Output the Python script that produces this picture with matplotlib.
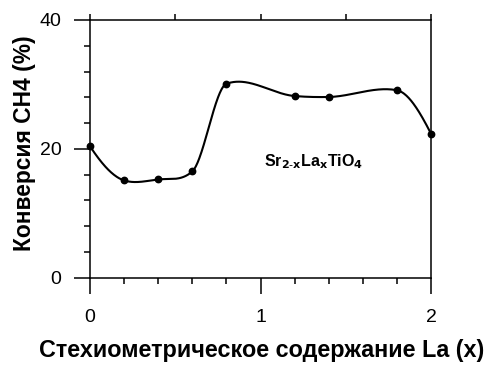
import numpy as np
import matplotlib
matplotlib.use("Agg")
import matplotlib.pyplot as plt
from matplotlib.ticker import MultipleLocator

x_la = [0.0, 0.2, 0.4, 0.6, 0.8, 1.2, 1.4, 1.8, 2.0]
conv = [20.4, 15.1, 15.25, 16.5, 30.1, 28.2, 28.05, 29.1, 22.35]
x_ticks = [0, 1, 2]
y_ticks = [0, 20, 40]


def smooth_curve(x, y, xs):
    """Hermite spline; tangents blend Akima and Catmull-Rom estimates."""
    x = np.asarray(x, float); y = np.asarray(y, float)
    n = len(x)
    s = np.diff(y) / np.diff(x)
    s_ext = np.concatenate([[3 * s[0] - 2 * s[1], 2 * s[0] - s[1]], s,
                            [2 * s[-1] - s[-2], 3 * s[-1] - 2 * s[-2]]])
    t = np.zeros(n)
    for i in range(n):
        m2, m1, m0, p1 = s_ext[i], s_ext[i + 1], s_ext[i + 2], s_ext[i + 3]
        w1 = abs(p1 - m0); w2 = abs(m1 - m2)
        ak = (m1 + m0) / 2 if w1 + w2 == 0 else (w1 * m1 + w2 * m0) / (w1 + w2)
        if 0 < i < n - 1:
            cr = (y[i + 1] - y[i - 1]) / (x[i + 1] - x[i - 1])
            t[i] = 0.5 * (ak + cr)
        else:
            t[i] = ak
    idx = np.clip(np.searchsorted(x, xs) - 1, 0, n - 2)
    h = x[idx + 1] - x[idx]
    u = (xs - x[idx]) / h
    h00 = 2 * u**3 - 3 * u**2 + 1
    h10 = u**3 - 2 * u**2 + u
    h01 = -2 * u**3 + 3 * u**2
    h11 = u**3 - u**2
    return h00 * y[idx] + h10 * h * t[idx] + h01 * y[idx + 1] + h11 * h * t[idx + 1]


plt.rcParams['font.family'] = ['Liberation Sans', 'DejaVu Sans']

fig = plt.figure(figsize=(4.88, 3.65), dpi=100)
ax = fig.add_axes([90 / 488, 1 - 277.7 / 365, (431 - 90) / 488, (277.7 - 20) / 365])

xs = np.linspace(min(x_la), max(x_la), 600)
ax.plot(xs, smooth_curve(x_la, conv, xs), color='black', lw=1.5, zorder=3)
ax.plot(x_la, conv, 'o', color='black', ms=4.6, zorder=4, clip_on=False)

ax.set_xlim(0, 2)
ax.set_ylim(0, 40)
ax.set_xticks(x_ticks)
ax.set_yticks(y_ticks)
ax.xaxis.set_minor_locator(MultipleLocator(0.2))
ax.yaxis.set_minor_locator(MultipleLocator(4))
ax.tick_params(which='major', direction='out', length=11.5, width=1.1, labelsize=14, pad=9)
ax.tick_params(axis='x', which='major', pad=11)
ax.tick_params(which='minor', direction='out', length=4.5, width=1.1)
for s in ax.spines.values():
    s.set_linewidth(1.1)

# top ticks
axt = ax.secondary_xaxis('top')
axt.set_xticks([0, 0.5, 1, 1.5, 2])
axt.tick_params(direction='out', length=4.5, width=1.1, labeltop=False)
axt.spines['top'].set_visible(False)

ax.set_xlabel('Стехиометрическое содержание La (x)', fontsize=16.8, fontweight='bold')
ax.xaxis.set_label_coords(0.504, (277.7 - 357) / 257.7)
ax.xaxis.label.set_verticalalignment('baseline')
ax.set_ylabel('Конверсия CH4 (%)', fontsize=16.4, fontweight='bold')
ax.yaxis.set_label_coords((25 - 90) / 341, (277.7 - 143) / 257.7)
ax.yaxis.label.set_verticalalignment('center')

ax.text(1.314, 18.0, r'Sr$_{\mathbf{2\text{-}x}}$La$_{\mathbf{x}}$TiO$_{\mathbf{4}}$', fontsize=11.5,
        fontweight='bold', ha='center', va='center')

fig.savefig('out.png', dpi=100)
